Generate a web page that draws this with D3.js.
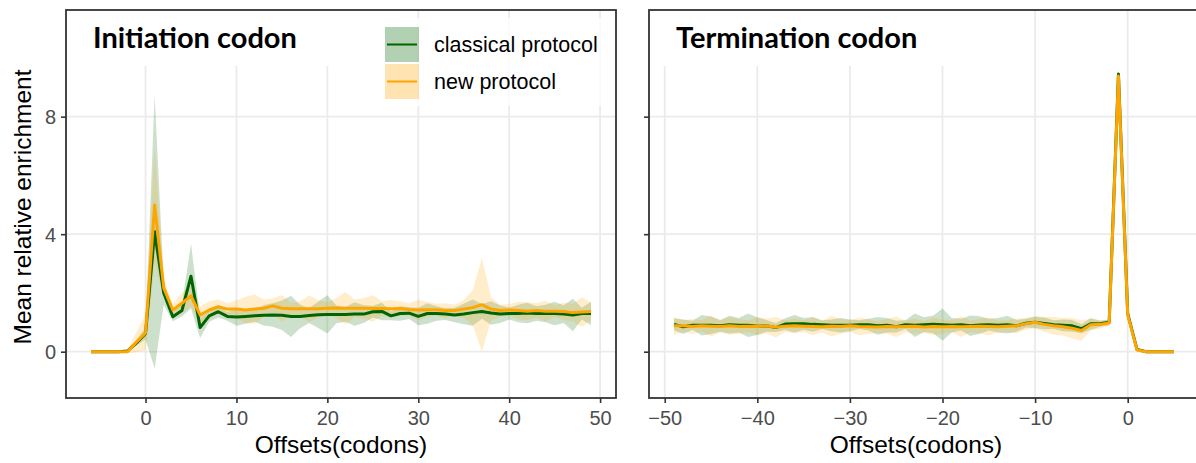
<!DOCTYPE html>
<html>
    <head>
        <meta charset="utf-8">
        <title>relative enrichment</title>
        <style>
            body{ margin: 0; background: #fff; }
            svg{ display: block; }
            .tick text{ font-family: "Liberation Sans", Arial, sans-serif; font-size: 20px; fill: #4d4d4d; }
            .tick line{ stroke: #333; stroke-width: 1.6px; }
        </style>
    </head>
    <body>
        <svg id="chart" width="1196" height="463"></svg>
        <script src="https://d3js.org/d3.v7.min.js"></script>
        <script>
            // start codon panel: offsets -6..49
            var initOffsets = d3.range(-6, 50);
            var classicalInitMean = [0, 0, 0, 0, 0.02, 0.3,
                0.62, 4.08, 2.0, 1.19, 1.4, 2.57, 0.82, 1.22, 1.36, 1.2,
                1.18, 1.2, 1.22, 1.24, 1.25, 1.24, 1.2, 1.2, 1.23, 1.26,
                1.27, 1.27, 1.27, 1.28, 1.28, 1.36, 1.37, 1.22, 1.3, 1.31,
                1.2, 1.3, 1.3, 1.28, 1.25, 1.28, 1.33, 1.37, 1.32, 1.28,
                1.3, 1.3, 1.32, 1.3, 1.3, 1.3, 1.28, 1.25, 1.3, 1.3];
            var classicalInitSd = [0, 0, 0, 0, 0.02, 0.1,
                0.2, 4.65, 0.4, 0.15, 0.2, 1.1, 0.35, 0.2, 0.2, 0.15,
                0.3, 0.25, 0.2, 0.35, 0.4, 0.5, 0.7, 0.4, 0.25, 0.45,
                0.65, 0.3, 0.25, 0.4, 0.3, 0.2, 0.3, 0.15, 0.25, 0.2,
                0.3, 0.35, 0.25, 0.2, 0.25, 0.35, 0.45, 0.25, 0.4, 0.3,
                0.2, 0.3, 0.35, 0.25, 0.3, 0.4, 0.3, 0.55, 0.2, 0.4];
            var newInitMean = [0, 0, 0, 0, 0, 0.33,
                0.65, 4.99, 2.17, 1.42, 1.65, 1.9, 1.25, 1.42, 1.53, 1.45,
                1.45, 1.42, 1.45, 1.48, 1.56, 1.48, 1.46, 1.46, 1.46, 1.46,
                1.48, 1.49, 1.48, 1.48, 1.48, 1.47, 1.47, 1.46, 1.47, 1.44,
                1.42, 1.43, 1.43, 1.4, 1.4, 1.45, 1.5, 1.6, 1.45, 1.4,
                1.42, 1.4, 1.38, 1.4, 1.38, 1.38, 1.37, 1.33, 1.35, 1.37];
            var newInitSd = [0, 0, 0, 0, 0.05, 0.35,
                0.6, 2.0, 0.3, 0.2, 0.35, 0.35, 0.3, 0.3, 0.25, 0.2,
                0.3, 0.45, 0.5, 0.3, 0.25, 0.45, 0.2, 0.25, 0.45, 0.3,
                0.2, 0.35, 0.55, 0.3, 0.35, 0.45, 0.25, 0.3, 0.25, 0.2,
                0.35, 0.25, 0.2, 0.25, 0.2, 0.3, 0.6, 1.6, 0.4, 0.2,
                0.2, 0.3, 0.3, 0.25, 0.35, 0.2, 0.3, 0.3, 0.5, 0.3];

            // stop codon panel: offsets -49..5
            var termOffsets = d3.range(-49, 6);
            var classicalTermMean = [0.93, 0.85, 0.9, 0.9, 0.9, 0.88, 0.92, 0.9, 0.9, 0.87,
                0.88, 0.82, 0.94, 0.95, 0.95, 0.93, 0.92, 0.9, 0.9, 0.9,
                0.92, 0.92, 0.88, 0.9, 0.85, 0.92, 0.9, 0.92, 0.93, 0.92,
                0.9, 0.92, 0.88, 0.91, 0.92, 0.9, 0.92, 0.88, 0.97, 1.0,
                0.96, 0.92, 0.9, 0.88, 0.78, 0.95, 0.95, 1.0, 9.45, 1.3,
                0.08, 0, 0, 0, 0];
            var classicalTermSd = [0.2, 0.25, 0.15, 0.35, 0.3, 0.2, 0.3, 0.25, 0.4, 0.3,
                0.2, 0.15, 0.2, 0.3, 0.2, 0.25, 0.15, 0.2, 0.25, 0.2,
                0.15, 0.2, 0.3, 0.25, 0.2, 0.15, 0.4, 0.25, 0.3, 0.55,
                0.25, 0.2, 0.35, 0.3, 0.2, 0.25, 0.3, 0.2, 0.15, 0.2,
                0.2, 0.15, 0.2, 0.2, 0.15, 0.2, 0.1, 0.1, 0.1, 0.1,
                0.05, 0, 0, 0, 0];
            var newTermMean = [0.88, 0.88, 0.86, 0.88, 0.87, 0.86, 0.88, 0.86, 0.87, 0.86,
                0.88, 0.83, 0.87, 0.88, 0.87, 0.86, 0.85, 0.87, 0.86, 0.88,
                0.86, 0.85, 0.84, 0.86, 0.85, 0.86, 0.87, 0.84, 0.86, 0.85,
                0.86, 0.85, 0.86, 0.87, 0.86, 0.85, 0.87, 0.88, 0.95, 1.0,
                0.93, 0.88, 0.85, 0.8, 0.72, 0.92, 0.93, 0.98, 9.38, 1.25,
                0.06, 0, 0, 0, 0];
            var newTermSd = [0.3, 0.2, 0.25, 0.2, 0.35, 0.2, 0.3, 0.25, 0.2, 0.3,
                0.25, 0.35, 0.2, 0.25, 0.2, 0.3, 0.2, 0.35, 0.25, 0.2,
                0.3, 0.25, 0.2, 0.25, 0.35, 0.2, 0.25, 0.2, 0.3, 0.25,
                0.2, 0.35, 0.2, 0.25, 0.3, 0.2, 0.2, 0.25, 0.2, 0.2,
                0.25, 0.3, 0.3, 0.35, 0.35, 0.2, 0.15, 0.1, 0.1, 0.1,
                0.05, 0, 0, 0, 0];

            var seriesNames = ["classical protocol", "new protocol"];
            var seriesColors = ["#006400", "#ffa500"];
            var yTicks = [0, 4, 8];
            var initTicks = [0, 10, 20, 30, 40, 50];
            var termTicks = [-50, -40, -30, -20, -10, 0];

            var svg = d3.select("#chart");
            var panelTop = 10, panelBottom = 398;
            var y = d3.scaleLinear().domain([-1.576, 11.63]).range([panelBottom, panelTop]);
            var sans = "'Liberation Sans', Arial, sans-serif";

            function toRows(offsets, mean, sd){
                return offsets.map(function(o, i){
                    return {x: o, m: mean[i], lo: mean[i] - sd[i], hi: mean[i] + sd[i]};
                });
            }

            function panel(opt){
                var x = d3.scaleLinear().domain(opt.domain).range([opt.left, opt.right]);
                var g = svg.append("g");
                var clipId = "clip" + opt.id;
                svg.append("clipPath").attr("id", clipId)
                    .append("rect")
                    .attr("x", opt.left).attr("y", panelTop)
                    .attr("width", opt.right - opt.left).attr("height", panelBottom - panelTop);

                // grid
                g.selectAll(".gx").data(opt.ticks).enter().append("line")
                    .attr("x1", function(d){ return x(d); }).attr("x2", function(d){ return x(d); })
                    .attr("y1", panelTop).attr("y2", panelBottom)
                    .attr("stroke", "#ebebeb").attr("stroke-width", 1.8);
                g.selectAll(".gy").data(yTicks).enter().append("line")
                    .attr("x1", opt.left).attr("x2", opt.right)
                    .attr("y1", function(d){ return y(d); }).attr("y2", function(d){ return y(d); })
                    .attr("stroke", "#ebebeb").attr("stroke-width", 1.8);

                // title label box hides the grid
                g.append("rect")
                    .attr("x", opt.left + 1).attr("y", panelTop + 1)
                    .attr("width", opt.titleW).attr("height", 55)
                    .attr("fill", "#fff");
                g.append("text")
                    .attr("x", opt.left + 27).attr("y", 48)
                    .attr("font-family", "Lato, 'Open Sans', sans-serif")
                    .attr("font-weight", 700)
                    .attr("font-size", 29)
                    .attr("fill", "#000")
                    .text(opt.title);

                var plot = g.append("g").attr("clip-path", "url(#" + clipId + ")");
                var area = d3.area()
                    .x(function(d){ return x(d.x); })
                    .y0(function(d){ return y(d.lo); })
                    .y1(function(d){ return y(d.hi); });
                var line = d3.line()
                    .x(function(d){ return x(d.x); })
                    .y(function(d){ return y(d.m); });

                opt.series.forEach(function(s, i){
                    plot.append("path").datum(s)
                        .attr("d", area)
                        .attr("fill", seriesColors[i])
                        .attr("fill-opacity", 0.2);
                });
                opt.series.forEach(function(s, i){
                    plot.append("path").datum(s)
                        .attr("d", line)
                        .attr("fill", "none")
                        .attr("stroke", seriesColors[i])
                        .attr("stroke-width", 3)
                        .attr("stroke-linejoin", "round");
                });

                // border
                g.append("rect")
                    .attr("x", opt.left).attr("y", panelTop)
                    .attr("width", opt.right - opt.left).attr("height", panelBottom - panelTop)
                    .attr("fill", "none").attr("stroke", "#333").attr("stroke-width", 1.8);

                var xa = svg.append("g").attr("transform", "translate(0," + panelBottom + ")")
                    .call(d3.axisBottom(x).tickValues(opt.ticks).tickSize(5).tickPadding(3));
                xa.select(".domain").remove();
                var ya = svg.append("g").attr("transform", "translate(" + opt.left + ",0)")
                    .call(d3.axisLeft(y).tickValues(yTicks).tickSize(5).tickPadding(5)
                        .tickFormat(opt.yLabels ? d3.format("d") : function(){ return ""; }));
                ya.select(".domain").remove();
                ya.selectAll("text").attr("dy", "0.36em");
                xa.selectAll("text").attr("dy", "0.95em");

                svg.append("text")
                    .attr("x", opt.titleX)
                    .attr("y", 453)
                    .attr("text-anchor", "middle")
                    .attr("font-family", sans)
                    .attr("font-size", 24.5)
                    .attr("fill", "#000")
                    .text("Offsets(codons)");
                return g;
            }

            var left = panel({
                id: "L", left: 66, right: 616, domain: [-8.75, 51.75], titleX: 341,
                ticks: initTicks, yLabels: true, title: "Initiation codon", titleW: 264,
                series: [toRows(initOffsets, classicalInitMean, classicalInitSd),
                         toRows(initOffsets, newInitMean, newInitSd)]
            });
            panel({
                id: "R", left: 649, right: 1199, domain: [-51.7, 7.7], titleX: 916,
                ticks: termTicks, yLabels: false, title: "Termination codon", titleW: 296,
                series: [toRows(termOffsets, classicalTermMean, classicalTermSd),
                         toRows(termOffsets, newTermMean, newTermSd)]
            });

            // legend inside the left panel
            var legend = left.append("g");
            legend.append("rect")
                .attr("x", 376).attr("y", 18).attr("width", 236).attr("height", 88)
                .attr("fill", "#fff").attr("fill-opacity", 0.75);
            seriesNames.forEach(function(name, i){
                var ky = 27 + i * 37;
                legend.append("rect")
                    .attr("x", 385).attr("y", ky).attr("width", 34).attr("height", 35)
                    .attr("fill", seriesColors[i]).attr("fill-opacity", 0.3);
                legend.append("line")
                    .attr("x1", 387).attr("x2", 417)
                    .attr("y1", ky + 17.5).attr("y2", ky + 17.5)
                    .attr("stroke", seriesColors[i]).attr("stroke-width", 2);
                legend.append("text")
                    .attr("x", 434).attr("y", ky + 25)
                    .attr("font-family", sans)
                    .attr("font-size", 21.5)
                    .attr("fill", "#000")
                    .text(name);
            });

            svg.append("text")
                .attr("transform", "translate(31,207) rotate(-90)")
                .attr("text-anchor", "middle")
                .attr("font-family", sans)
                .attr("font-size", 24.5)
                .attr("fill", "#000")
                .text("Mean relative enrichment");
        </script>
    </body>
</html>
